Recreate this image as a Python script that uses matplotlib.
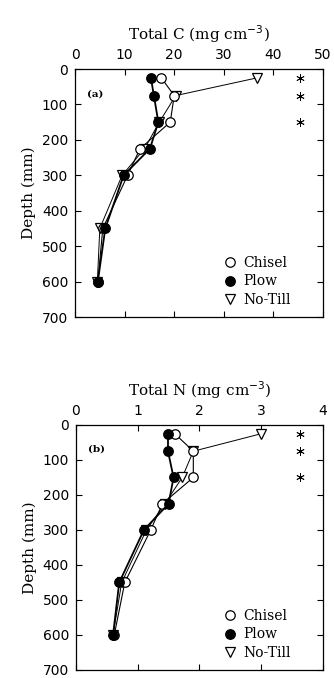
import matplotlib
matplotlib.use("Agg")
import matplotlib.pyplot as plt
from matplotlib.lines import Line2D

depth = [25, 75, 150, 225, 300, 450, 600]

# Total C (mg cm-3)
c_chisel = [17.4, 20.0, 19.2, 13.1, 10.6, 5.6, 4.6]
c_plow = [15.3, 15.9, 16.8, 15.1, 9.8, 6.1, 4.6]
c_notill = [36.7, 20.3, 17.0, 14.0, 9.5, 5.0, 4.5]

# Total N (mg cm-3)
n_chisel = [1.60, 1.90, 1.90, 1.40, 1.21, 0.79, 0.62]
n_plow = [1.49, 1.49, 1.58, 1.50, 1.10, 0.70, 0.60]
n_notill = [3.00, 1.90, 1.72, 1.44, 1.14, 0.74, 0.60]

sig_depth = [25, 75, 150]

serif = "DejaVu Serif"
plt.rcParams["font.family"] = "DejaVu Sans"


def panel(ax, chisel, plow, notill, xmax, xstep, xlabel, tag, star_x):
    ax.plot(notill, depth, color="black", lw=0.7, marker="v", ms=6.5,
            mfc="white", mec="black", mew=0.9, zorder=2)
    ax.plot(chisel, depth, color="black", lw=0.8, marker="o", ms=6.8,
            mfc="white", mec="black", mew=0.9, zorder=3)
    ax.plot(plow, depth, color="black", lw=1.3, marker="o", ms=6.8,
            mfc="black", mec="black", zorder=4)
    # significance marks
    ax.plot([star_x] * len(sig_depth), sig_depth, ls="none", marker=(6, 2, 0),
            ms=6, mec="black", mew=0.6)

    ax.set_xlim(0, xmax)
    ax.set_ylim(700, 0)
    ax.set_xticks([i * xstep for i in range(int(round(xmax / xstep)) + 1)])
    ax.set_yticks(range(0, 701, 100))
    ax.xaxis.set_label_position("top")
    ax.xaxis.tick_top()
    ax.tick_params(direction="in", top=True, bottom=True, left=True, right=True,
                   labeltop=True, labelbottom=False, length=4, width=0.8,
                   labelsize=10, pad=5)
    ax.set_xlabel(xlabel, fontfamily=serif, fontsize=11, labelpad=6)
    ax.set_ylabel("Depth (mm)", fontfamily=serif, fontsize=11, labelpad=4)
    ax.text(0.05, 0.89, tag, transform=ax.transAxes, fontfamily=serif,
            fontsize=7.5, fontweight="bold")
    for s in ax.spines.values():
        s.set_linewidth(0.9)

    handles = [
        Line2D([], [], ls="none", marker="o", ms=6.8, mfc="white", mec="black", mew=0.9),
        Line2D([], [], ls="none", marker="o", ms=6.8, mfc="black", mec="black"),
        Line2D([], [], ls="none", marker="v", ms=6.5, mfc="white", mec="black", mew=0.9),
    ]
    ax.legend(handles, ["Chisel", "Plow", "No-Till"], loc="lower right",
              frameon=False, prop={"family": serif, "size": 10},
              handlelength=0.8, handletextpad=0.6, labelspacing=0.35,
              borderaxespad=0.3, bbox_to_anchor=(0.91, 0.0))


fig = plt.figure(figsize=(3.34, 6.78), dpi=100)
ax1 = fig.add_axes([0.2246, 0.5324, 0.7425, 0.3658])
ax2 = fig.add_axes([0.2275, 0.0118, 0.7395, 0.3614])

panel(ax1, c_chisel, c_plow, c_notill, 50, 10, r"Total C (mg cm$^{-3}$)", "(a)", 45.4)
panel(ax2, n_chisel, n_plow, n_notill, 4, 1, r"Total N (mg cm$^{-3}$)", "(b)", 3.63)

fig.savefig("out.png", dpi=100)
